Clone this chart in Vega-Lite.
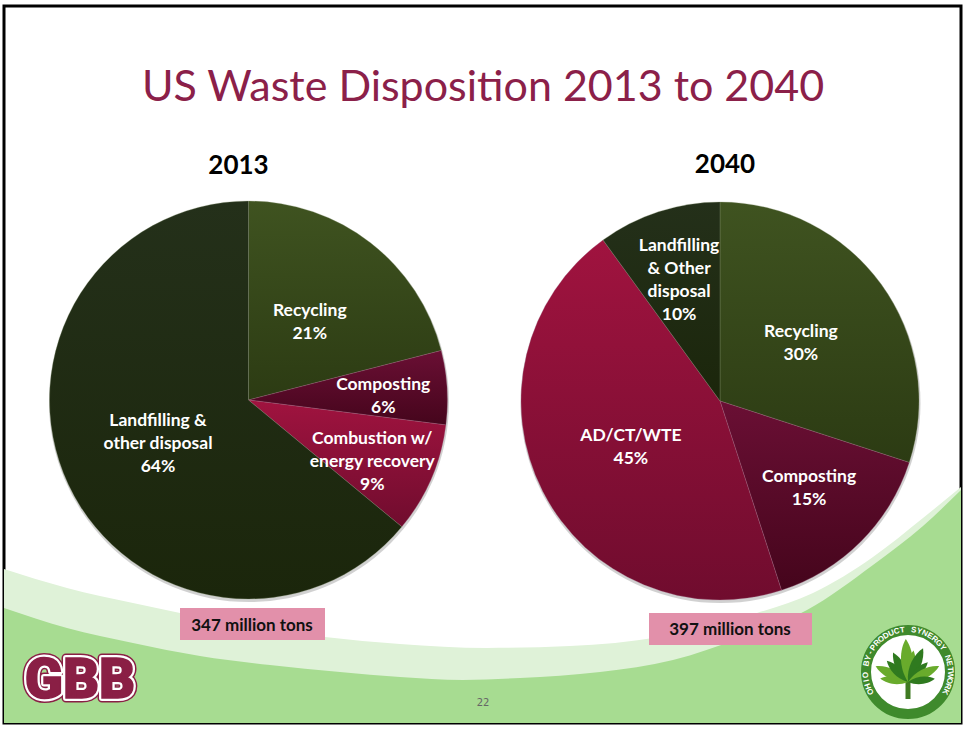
{
"$schema":"https://vega.github.io/schema/vega-lite/v6.json",
"autosize":{"type":"none"},
"width":957,"height":717,
"padding":{"left":4,"right":4,"top":6,"bottom":7},
"background":"#ffffff",
"view":{"stroke":"#000000","strokeWidth":3,"fill":"#ffffff"},
"config":{"font":"Lato"},
"datasets":{
"slices":[
{"year":"2013","group":"recycling","rank":1,"share":21,"label":"Recycling\n21%","reach":"mid"},
{"year":"2013","group":"composting","rank":2,"share":6,"label":"Composting\n6%","reach":"far"},
{"year":"2013","group":"energy","rank":3,"share":9,"label":"Combustion w/\nenergy recovery\n9%","reach":"far"},
{"year":"2013","group":"landfill","rank":4,"share":64,"label":"Landfilling &\nother disposal\n64%","reach":"mid"},
{"year":"2040","group":"recycling","rank":1,"share":30,"label":"Recycling\n30%","reach":"mid"},
{"year":"2040","group":"composting","rank":2,"share":15,"label":"Composting\n15%","reach":"near"},
{"year":"2040","group":"energy","rank":3,"share":45,"label":"AD/CT/WTE\n45%","reach":"mid"},
{"year":"2040","group":"landfill","rank":4,"share":10,"label":"Landfilling\n& Other\ndisposal\n10%","reach":"near"}
],
"years":[{"year":"2013","tons":"347 million tons"},{"year":"2040","tons":"397 million tons"}],
"waveTop":[{"a":4,"b":569},{"a":67,"b":588},{"a":133,"b":603},{"a":180,"b":613},{"a":250,"b":627},{"a":325,"b":637},{"a":400,"b":644},{"a":487,"b":648},{"a":570,"b":646},{"a":660,"b":637},{"a":757,"b":613},{"a":813,"b":593},{"a":873,"b":557},{"a":923,"b":518},{"a":961,"b":487}],
"waveLow":[{"a":4,"b":608},{"a":67,"b":628},{"a":133,"b":643},{"a":200,"b":656},{"a":270,"b":665},{"a":340,"b":672},{"a":400,"b":677},{"a":463,"b":680},{"a":520,"b":678},{"a":600,"b":672},{"a":673,"b":660},{"a":740,"b":638},{"a":807,"b":610},{"a":873,"b":565},{"a":923,"b":526},{"a":961,"b":490}],
"ringText":[{"c":"O","p":0},{"c":"H","p":1},{"c":"I","p":2},{"c":"O","p":3},{"c":"B","p":5},{"c":"Y","p":6},{"c":"-","p":7},{"c":"P","p":8},{"c":"R","p":9},{"c":"O","p":10},{"c":"D","p":11},{"c":"U","p":12},{"c":"C","p":13},{"c":"T","p":14},{"c":"S","p":16},{"c":"Y","p":17},{"c":"N","p":18},{"c":"E","p":19},{"c":"R","p":20},{"c":"G","p":21},{"c":"Y","p":22},{"c":"N","p":24},{"c":"E","p":25},{"c":"T","p":26},{"c":"W","p":27},{"c":"O","p":28},{"c":"R","p":29},{"c":"K","p":30}],
"leaves":[{"bearing":-83,"len":28,"shade":"light"},{"bearing":-64,"len":36,"shade":"light"},{"bearing":-45,"len":30,"shade":"dark"},{"bearing":-27,"len":33,"shade":"dark"},{"bearing":-3,"len":43,"shade":"light"},{"bearing":10,"len":32,"shade":"light"},{"bearing":24,"len":37,"shade":"dark"},{"bearing":45,"len":28,"shade":"dark"},{"bearing":63,"len":35,"shade":"light"},{"bearing":83,"len":27,"shade":"dark"}]
},
"resolve":{"scale":{"x":"independent","y":"independent","theta":"independent","size":"independent","angle":"independent","color":"independent"}},
"layer":[
{"data":{"name":"waveTop"},"mark":{"type":"area","fill":"#dff2d8","interpolate":"monotone"},
 "encoding":{"x":{"field":"a","type":"quantitative","scale":{"domain":[4,961],"nice":false,"zero":false},"axis":null},
 "y":{"field":"b","type":"quantitative","scale":{"domain":[723,6],"nice":false,"zero":false},"axis":null},"y2":{"datum":723}}},
{"data":{"name":"waveLow"},"mark":{"type":"area","fill":"#a7dc91","interpolate":"monotone"},
 "encoding":{"x":{"field":"a","type":"quantitative","scale":{"domain":[4,961],"nice":false,"zero":false},"axis":null},
 "y":{"field":"b","type":"quantitative","scale":{"domain":[723,6],"nice":false,"zero":false},"axis":null},"y2":{"datum":723}}},
{"data":{"name":"years"},"mark":{"type":"arc","radius":200,"fill":"#666666","opacity":0.3},
 "encoding":{"x":{"field":"year","type":"nominal","scale":{"type":"point","padding":0,"domain":["2013","2040"],"range":[245,716.5]},"axis":null},
 "y":{"field":"year","type":"nominal","scale":{"type":"point","padding":0,"domain":["2013","2040"],"range":[396,397]},"axis":null}}},
{"data":{"name":"slices"},
 "transform":[{"stack":"share","groupby":["year"],"sort":[{"field":"rank","order":"ascending"}],"as":["start","end"]}],
 "encoding":{"x":{"field":"year","type":"nominal","scale":{"type":"point","padding":0,"domain":["2013","2040"],"range":[244.5,716]},"axis":null},
 "y":{"field":"year","type":"nominal","scale":{"type":"point","padding":0,"domain":["2013","2040"],"range":[394,395]},"axis":null},
 "theta":{"field":"start","type":"quantitative","scale":{"domain":[0,100],"range":[0,6.28318]}},"theta2":{"field":"end"}},
 "layer":[
 {"transform":[{"filter":"datum.group==='recycling'"}],"mark":{"type":"arc","radius":199,"stroke":"#8a9a78","strokeWidth":0.3,"fill":{"gradient":"linear","x1":0,"y1":0,"x2":0,"y2":1,"stops":[{"offset":0,"color":"#3f5320"},{"offset":1,"color":"#2c3b13"}]}}},
 {"transform":[{"filter":"datum.group==='composting'"}],"mark":{"type":"arc","radius":199,"stroke":"#a8708a","strokeWidth":0.3,"fill":{"gradient":"linear","x1":0,"y1":0,"x2":0,"y2":1,"stops":[{"offset":0,"color":"#6a0f34"},{"offset":1,"color":"#45051c"}]}}},
 {"transform":[{"filter":"datum.group==='energy'"}],"mark":{"type":"arc","radius":199,"stroke":"#a8708a","strokeWidth":0.3,"fill":{"gradient":"linear","x1":0,"y1":0,"x2":0,"y2":1,"stops":[{"offset":0,"color":"#a0133f"},{"offset":1,"color":"#700c2e"}]}}},
 {"transform":[{"filter":"datum.group==='landfill'"}],"mark":{"type":"arc","radius":199,"stroke":"#8a9a78","strokeWidth":0.3,"fill":{"gradient":"linear","x1":0,"y1":0,"x2":0,"y2":1,"stops":[{"offset":0,"color":"#24301a"},{"offset":1,"color":"#1b260b"}]}}}
 ]},
{"data":{"name":"slices"},
 "transform":[{"stack":"share","groupby":["year"],"sort":[{"field":"rank","order":"ascending"}],"as":["start","end"]},{"calculate":"(datum.start+datum.end)/2","as":"mid"},{"calculate":"split(datum.label,'\\n').length","as":"lines"}],
 "encoding":{"x":{"field":"year","type":"nominal","scale":{"type":"point","padding":0,"domain":["2013","2040"],"range":[244.5,716]},"axis":null},
 "y":{"field":"year","type":"nominal","scale":{"type":"point","padding":0,"domain":["2013","2040"],"range":[394,395]},"axis":null},
 "theta":{"field":"mid","type":"quantitative","scale":{"domain":[0,100],"range":[0,6.28318]}},
 "text":{"field":"label"}},
 "layer":[
 {"transform":[{"filter":"datum.reach==='mid' && datum.lines===2"}],"mark":{"type":"text","radius":100,"dy":-10,"lineBreak":"\n","lineHeight":23,"fontSize":17.5,"fontWeight":"bold","font":"Lato","color":"#ffffff","align":"center","baseline":"middle"}},
 {"transform":[{"filter":"datum.reach==='mid' && datum.lines===3"}],"mark":{"type":"text","radius":100,"dy":-22,"lineBreak":"\n","lineHeight":23,"fontSize":17.5,"fontWeight":"bold","font":"Lato","color":"#ffffff","align":"center","baseline":"middle"}},
 {"transform":[{"filter":"datum.reach==='far' && datum.lines===2"}],"mark":{"type":"text","radius":137,"dx":-2,"dy":-6,"lineBreak":"\n","lineHeight":23,"fontSize":17.5,"fontWeight":"bold","font":"Lato","color":"#ffffff","align":"center","baseline":"middle"}},
 {"transform":[{"filter":"datum.reach==='far' && datum.lines===3"}],"mark":{"type":"text","radius":137,"dx":-2,"dy":-15,"lineBreak":"\n","lineHeight":23,"fontSize":17.5,"fontWeight":"bold","font":"Lato","color":"#ffffff","align":"center","baseline":"middle"}},
 {"transform":[{"filter":"datum.reach==='near' && datum.lines===2"}],"mark":{"type":"text","radius":126,"dy":-13,"lineBreak":"\n","lineHeight":23,"fontSize":17.5,"fontWeight":"bold","font":"Lato","color":"#ffffff","align":"center","baseline":"middle"}},
 {"transform":[{"filter":"datum.reach==='near' && datum.lines===4"}],"mark":{"type":"text","radius":126,"dx":-2,"dy":-35,"lineBreak":"\n","lineHeight":23,"fontSize":17.5,"fontWeight":"bold","font":"Lato","color":"#ffffff","align":"center","baseline":"middle"}}
 ]},
{"data":{"values":[{"note":"US Waste Disposition 2013 to 2040"}]},"mark":{"type":"text","font":"Lato","fontSize":43,"color":"#8b2049","align":"center","baseline":"middle"},
 "encoding":{"text":{"field":"note"},"x":{"datum":483,"type":"quantitative","scale":{"domain":[4,961],"nice":false,"zero":false},"axis":null},"y":{"datum":88,"type":"quantitative","scale":{"domain":[723,6],"nice":false,"zero":false},"axis":null}}},
{"data":{"name":"years"},"mark":{"type":"text","font":"Lato","fontSize":26,"fontWeight":"bold","color":"#000000","align":"center","baseline":"middle"},
 "encoding":{"text":{"field":"year"},"x":{"field":"year","type":"nominal","scale":{"type":"point","padding":0,"domain":["2013","2040"],"range":[234.5,721]},"axis":null},"y":{"field":"year","type":"nominal","scale":{"type":"point","padding":0,"domain":["2013","2040"],"range":[160,159]},"axis":null}}},
{"data":{"name":"years"},"transform":[{"filter":"datum.year==='2013'"}],"mark":{"type":"bar","width":145,"height":32,"fill":"#e290aa"},
 "encoding":{"x":{"field":"year","type":"nominal","scale":{"type":"point","padding":0,"domain":["2013","2040"],"range":[248.5,726.5]},"axis":null},"y":{"field":"year","type":"nominal","scale":{"type":"point","padding":0,"domain":["2013","2040"],"range":[618,623]},"axis":null}}},
{"data":{"name":"years"},"transform":[{"filter":"datum.year==='2040'"}],"mark":{"type":"bar","width":163,"height":32,"fill":"#e290aa"},
 "encoding":{"x":{"field":"year","type":"nominal","scale":{"type":"point","padding":0,"domain":["2013","2040"],"range":[248.5,726.5]},"axis":null},"y":{"field":"year","type":"nominal","scale":{"type":"point","padding":0,"domain":["2013","2040"],"range":[618,623]},"axis":null}}},
{"data":{"name":"years"},"mark":{"type":"text","font":"Lato","fontSize":17,"fontWeight":"bold","color":"#111111","align":"center","baseline":"middle"},
 "encoding":{"text":{"field":"tons"},"x":{"field":"year","type":"nominal","scale":{"type":"point","padding":0,"domain":["2013","2040"],"range":[248,726]},"axis":null},"y":{"field":"year","type":"nominal","scale":{"type":"point","padding":0,"domain":["2013","2040"],"range":[619.5,624]},"axis":null}}},
{"data":{"values":[{"note":"22"}]},"mark":{"type":"text","font":"DejaVu Sans","fontSize":10,"color":"#666666","align":"center","baseline":"middle"},
 "encoding":{"text":{"field":"note"},"x":{"datum":483,"type":"quantitative","scale":{"domain":[4,961],"nice":false,"zero":false},"axis":null},"y":{"datum":703,"type":"quantitative","scale":{"domain":[723,6],"nice":false,"zero":false},"axis":null}}},
{"data":{"values":[{"note":"GBB"}]},"mark":{"type":"text","font":"Roboto","fontWeight":900,"fontSize":56,"fill":"#8a1f45","stroke":"#8a1f45","strokeWidth":9,"strokeJoin":"round","align":"center","baseline":"middle"},
 "encoding":{"text":{"field":"note"},"x":{"datum":80,"type":"quantitative","scale":{"domain":[4,961],"nice":false,"zero":false},"axis":null},"y":{"datum":681,"type":"quantitative","scale":{"domain":[723,6],"nice":false,"zero":false},"axis":null}}},
{"data":{"values":[{"note":"GBB"}]},"mark":{"type":"text","font":"Roboto","fontWeight":900,"fontSize":56,"fill":"#8a1f45","stroke":"#ffffff","strokeWidth":6,"strokeJoin":"round","align":"center","baseline":"middle"},
 "encoding":{"text":{"field":"note"},"x":{"datum":80,"type":"quantitative","scale":{"domain":[4,961],"nice":false,"zero":false},"axis":null},"y":{"datum":681,"type":"quantitative","scale":{"domain":[723,6],"nice":false,"zero":false},"axis":null}}},
{"data":{"values":[{"note":"GBB"}]},"mark":{"type":"text","font":"Roboto","fontWeight":900,"fontSize":56,"fill":"#8a1f45","stroke":"#8a1f45","strokeWidth":1.5,"align":"center","baseline":"middle"},
 "encoding":{"text":{"field":"note"},"x":{"datum":80,"type":"quantitative","scale":{"domain":[4,961],"nice":false,"zero":false},"axis":null},"y":{"datum":681,"type":"quantitative","scale":{"domain":[723,6],"nice":false,"zero":false},"axis":null}}},
{"data":{"values":[{"note":"ring"}]},"mark":{"type":"point","shape":"circle","filled":true,"size":7056,"fill":"#ffffff","stroke":"#3f8a2c","strokeWidth":10,"opacity":1},
 "encoding":{"x":{"datum":908,"type":"quantitative","scale":{"domain":[4,961],"nice":false,"zero":false},"axis":null},"y":{"datum":672,"type":"quantitative","scale":{"domain":[723,6],"nice":false,"zero":false},"axis":null}}},
{"data":{"name":"ringText"},"mark":{"type":"text","radius":42,"font":"Liberation Sans","fontWeight":"bold","fontSize":8,"color":"#ffffff","align":"center","baseline":"middle"},
 "encoding":{"text":{"field":"c"},
 "x":{"datum":908,"type":"quantitative","scale":{"domain":[4,961],"nice":false,"zero":false},"axis":null},"y":{"datum":672,"type":"quantitative","scale":{"domain":[723,6],"nice":false,"zero":false},"axis":null},
 "theta":{"field":"p","type":"quantitative","scale":{"domain":[0,30],"range":[-2.05,2.05]}},
 "angle":{"field":"p","type":"quantitative","scale":{"domain":[0,30],"range":[-117,117]}}}},
{"data":{"values":[{"note":"trunk"}]},"mark":{"type":"rule","color":"#3f7a22","strokeWidth":5},
 "encoding":{"x":{"datum":908,"type":"quantitative","scale":{"domain":[4,961],"nice":false,"zero":false},"axis":null},"y":{"datum":680,"type":"quantitative","scale":{"domain":[723,6],"nice":false,"zero":false},"axis":null},"y2":{"datum":699}}},
{"data":{"name":"leaves"},"mark":{"type":"point","filled":true,"opacity":1,"shape":"M0,0 C0.2,-0.35 0.16,-0.75 0,-1 C-0.16,-0.75 -0.2,-0.35 0,0 Z"},
 "encoding":{"x":{"datum":908,"type":"quantitative","scale":{"domain":[4,961],"nice":false,"zero":false},"axis":null},"y":{"datum":682,"type":"quantitative","scale":{"domain":[723,6],"nice":false,"zero":false},"axis":null},
 "angle":{"field":"bearing","type":"quantitative","scale":{"domain":[-90,90],"range":[-90,90]}},
 "size":{"field":"len","type":"quantitative","scale":{"type":"pow","exponent":2,"domain":[0,45],"range":[0,8100]},"legend":null},
 "color":{"field":"shade","type":"nominal","scale":{"domain":["light","dark"],"range":["#69ab2c","#2f7a1f"]},"legend":null}}}
]
}
